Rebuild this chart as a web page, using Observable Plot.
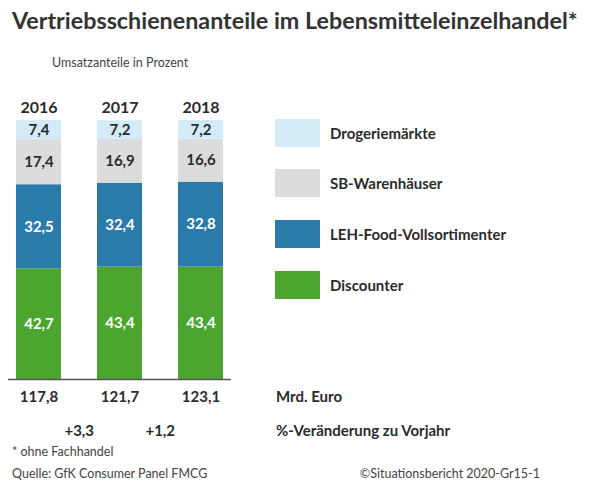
<!DOCTYPE html>
<html>
<head>
<meta charset="utf-8">
<script src="https://cdn.jsdelivr.net/npm/d3@7"></script>
<script src="https://cdn.jsdelivr.net/npm/@observablehq/plot@0.6"></script>
<style>
  html, body { margin: 0; padding: 0; background: #fff; }
  #wrap { position: relative; width: 600px; height: 488px; overflow: hidden; font-family: Lato, "Open Sans", sans-serif; color: #2b2b2b; }
  .abs { position: absolute; white-space: nowrap; line-height: 1; }
  #title { left: 12px; top: 9px; font-size: 23.3px; font-weight: 700; color: #333; }
  #subtitle { left: 52px; top: 57px; font-size: 12.5px; color: #444; }
  #chart { position: absolute; left: 0; top: 88px; }
  .leg-sw { position: absolute; left: 275px; width: 45px; height: 28px; }
  .leg-lb { position: absolute; left: 330px; font-size: 15px; font-weight: 700; line-height: 28px; color: #2b2b2b; }
  .rowlab { left: 276px; font-size: 15px; font-weight: 700; color: #2b2b2b; }
  .foot { font-size: 12.5px; color: #444; }
</style>
</head>
<body>
<div id="wrap">
  <div id="title" class="abs"></div>
  <div id="subtitle" class="abs"></div>
  <div id="chart"></div>
  <div id="legend"></div>
  <div id="rows"></div>
  <div id="foot"></div>
</div>
<script>
// ---- data ----
const years = ["2016", "2017", "2018"];
const segments = ["Discounter", "LEH-Food-Vollsortimenter", "SB-Warenhäuser", "Drogeriemärkte"]; // bottom -> top
const discounter = [42.7, 43.4, 43.4];
const lehFood = [32.5, 32.4, 32.8];
const sbWarenhaeuser = [17.4, 16.9, 16.6];
const drogeriemaerkte = [7.4, 7.2, 7.2];
const umsatzMrdEuro = [117.8, 121.7, 123.1];
const veraenderungProzent = [3.3, 1.2]; // 2016->2017, 2017->2018
const segmentColors = ["#4ba52f", "#2a7aaa", "#dcdcdc", "#d2ebf7"];
const darkTextSegments = ["SB-Warenhäuser", "Drogeriemärkte"];

const titleText = "Vertriebsschienenanteile im Lebensmitteleinzelhandel*";
const subtitleText = "Umsatzanteile in Prozent";
const rowLabels = ["Mrd. Euro", "%-Veränderung zu Vorjahr"];
const footnote = "* ohne Fachhandel";
const sourceText = "Quelle: GfK Consumer Panel FMCG";
const copyrightText = "©Situationsbericht 2020-Gr15-1";

// ---- build table ----
const seriesBySegment = {
  "Discounter": discounter,
  "LEH-Food-Vollsortimenter": lehFood,
  "SB-Warenhäuser": sbWarenhaeuser,
  "Drogeriemärkte": drogeriemaerkte
};
const table = [];
segments.forEach(s => years.forEach((y, i) => table.push({year: y, segment: s, value: seriesBySegment[s][i]})));
const totals = years.map((y, i) => ({year: y, value: umsatzMrdEuro[i]}));
const changes = veraenderungProzent.map((v, i) => ({from: years[i], to: years[i + 1], value: v}));

const fmt = v => v.toFixed(1).replace(".", ",");
const fmtSigned = v => (v >= 0 ? "+" : "") + fmt(v);

// ---- layout ----
const W = 600, H = 360;
const mL = 8, mR = 369, padIn = 0.448, padOut = 0.092;
const step = (W - mL - mR) / (years.length - padIn + 2 * padOut);
const font = "Lato, 'Open Sans', sans-serif";

const chart = Plot.plot({
  width: W, height: H,
  marginTop: 32, marginBottom: 69, marginLeft: mL, marginRight: mR,
  style: {fontFamily: font, background: "transparent", overflow: "visible"},
  x: {domain: years, paddingInner: padIn, paddingOuter: padOut, axis: null},
  y: {domain: [0, 100], axis: null},
  color: {domain: segments, range: segmentColors},
  marks: [
    Plot.barY(table, Plot.stackY({x: "year", y: "value", fill: "segment", order: segments})),
    Plot.text(table, Plot.stackY({
      x: "year", y: "value", z: "segment", order: segments,
      text: d => darkTextSegments.includes(d.segment) ? "" : fmt(d.value),
      fill: "white", fontSize: 15, fontWeight: 700, lineAnchor: "middle"
    })),
    Plot.text(table, Plot.stackY({
      x: "year", y: "value", z: "segment", order: segments,
      text: d => darkTextSegments.includes(d.segment) ? fmt(d.value) : "",
      fill: "#2b2b2b", fontSize: 15, fontWeight: 700, lineAnchor: "middle"
    })),
    Plot.ruleY([0], {stroke: "#555", strokeWidth: 1.5}),
    Plot.text(years, {x: d => d, frameAnchor: "top", lineAnchor: "middle", dy: -13, text: d => d, fontSize: 16, fontWeight: 700, fill: "#2b2b2b"}),
    Plot.text(totals, {x: "year", frameAnchor: "bottom", lineAnchor: "middle", dy: 18, text: d => fmt(d.value), fontSize: 15, fontWeight: 700, fill: "#2b2b2b"}),
    Plot.text(changes, {x: "to", frameAnchor: "bottom", lineAnchor: "middle", dx: -step / 2, dy: 52, text: d => fmtSigned(d.value), fontSize: 15, fontWeight: 700, fill: "#2b2b2b"})
  ]
});
document.getElementById("chart").appendChild(chart);

// ---- html texts ----
document.getElementById("title").textContent = titleText;
document.getElementById("subtitle").textContent = subtitleText;

const legendTops = [119, 169, 220, 271];
const legendOrder = segments.slice().reverse(); // top -> bottom
const legend = document.getElementById("legend");
legendOrder.forEach((s, i) => {
  const sw = document.createElement("div");
  sw.className = "leg-sw";
  sw.style.top = legendTops[i] + "px";
  sw.style.background = segmentColors[segments.indexOf(s)];
  legend.appendChild(sw);
  const lb = document.createElement("div");
  lb.className = "leg-lb";
  lb.style.top = legendTops[i] + "px";
  lb.textContent = s;
  legend.appendChild(lb);
});

const rows = document.getElementById("rows");
[[rowLabels[0], 389], [rowLabels[1], 423]].forEach(([t, top]) => {
  const d = document.createElement("div");
  d.className = "abs rowlab";
  d.style.top = top + "px";
  d.textContent = t;
  rows.appendChild(d);
});

const foot = document.getElementById("foot");
[[footnote, 12, 446, "left"], [sourceText, 12, 468, "left"], [copyrightText, 540, 468, "right"]].forEach(([t, x, y, a]) => {
  const d = document.createElement("div");
  d.className = "abs foot";
  d.style.top = y + "px";
  if (a === "left") d.style.left = x + "px"; else d.style.right = (600 - x) + "px";
  d.textContent = t;
  foot.appendChild(d);
});
</script>
</body>
</html>
